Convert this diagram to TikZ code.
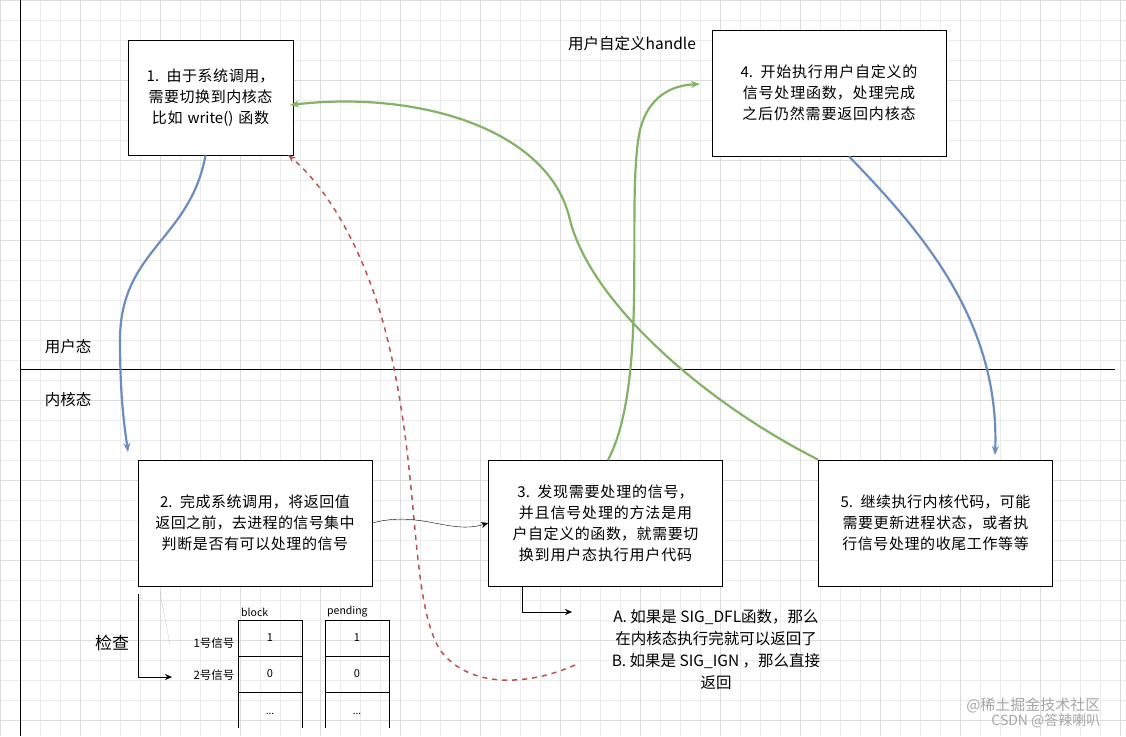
\documentclass[tikz,border=0pt]{standalone}
\usepackage{fontspec}
\setmainfont{Noto Sans CJK SC}
\XeTeXlinebreaklocale "zh"
\XeTeXlinebreakskip=0pt plus 1pt
\usetikzlibrary{arrows.meta}
\begin{document}
\begin{tikzpicture}[x=1pt,y=-1pt,
 box/.style={draw,thick,fill=white,minimum width=#1,text width=#1-12pt,align=center,minimum height=126pt,font=\fontsize{15}{21}\selectfont,inner sep=0pt},
 lbl/.style={font=\fontsize{15.5}{18}\selectfont},
 blue/.style={draw={rgb,255:red,108;green,142;blue,191},line width=2.2pt,-{Stealth[length=9pt,width=7pt]}},
 green/.style={draw={rgb,255:red,130;green,179;blue,102},line width=2.2pt,-{Stealth[length=9pt,width=7pt]}},
 red/.style={draw={rgb,255:red,184;green,84;blue,80},line width=1.5pt,dashed,dash pattern=on 5pt off 5pt,-{Stealth[length=8pt,width=6pt]}},
 blk/.style={draw,thin,-{Stealth[length=7pt,width=6pt]}},
 cell/.style={draw,thin,minimum width=64pt,minimum height=36pt,inner sep=0pt,font=\fontsize{11}{12}\selectfont}]
\useasboundingbox (0,0) rectangle (1126,736);
\fill[white] (0,0) rectangle (1126,736);
\draw[black!8,step=20pt] (0,0) grid (1126,736);
\draw[black!14,step=80pt] (0,0) grid (1126,736);
\draw (20,0) -- (20,736);
\draw (20,369) -- (1115,369);
\node[lbl] (ut) at (68,347) {用户态};
\node[lbl] (kt) at (68,400) {内核态};
\node[lbl] (uh) at (632,44) {用户自定义handle};

\node[box=165pt,minimum height=115pt,text width=158pt] (b1) at (210.5,97.5) {1. 由于系统调用，需要切换到内核态\\比如 write() 函数};
\node[box=234pt] (b4) at (829,93) {4. 开始执行用户自定义的信号处理函数，处理完成之后仍然需要返回内核态};
\node[box=234pt] (b2) at (255,523) {2. 完成系统调用，将返回值返回之前，去进程的信号集中判断是否有可以处理的信号};
\node[box=234pt] (b3) at (605.5,523) {3. 发现需要处理的信号，并且信号处理的方法是用户自定义的函数，就需要切换到用户态执行用户代码};
\node[box=234pt] (b5) at (935.5,523) {5. 继续执行内核代码，可能需要更新进程状态，或者执行信号处理的收尾工作等等};

\coordinate (b2in) at (128,452);
\coordinate (b5in) at (995,455);
\coordinate (b1in) at (290,105);
\coordinate (b1dn) at (288,155);
\coordinate (b4in) at (700,84);
\draw[blue] (b1.south) ++(-5,0) .. controls (190,240) and (120,250) .. (120,340) .. controls (120,400) and (125,430) .. (b2in);
\draw[blue] (b4.south) ++(20,0) .. controls (920,230) and (1000,320) .. (b5in);
\draw[green] (608,460) .. controls (650,380) and (625,200) .. (640,130) .. controls (650,90) and (680,85) .. (b4in);
\draw[green] (b5.north west) .. controls (700,400) and (590,300) .. (570,220) .. controls (550,130) and (420,90) .. (b1in);
\node[align=center,font=\fontsize{15.5}{22}\selectfont] (ab) at (716,650) {A. 如果是 SIG\_DFL函数，那么\\在内核态执行完就可以返回了\\B. 如果是 SIG\_IGN ，那么直接\\返回};
\draw[red] (575,665) .. controls (530,685) and (470,690) .. (440,650) .. controls (410,600) and (420,480) .. (390,350) .. controls (370,260) and (330,190) .. (b1dn);
\draw[blk] (b2.east) .. controls (420,510) and (450,535) .. (b3.west);
\coordinate (abin) at (572,612);
\draw[blk] (522,586) -- (522,612) -- (abin);

\node[font=\fontsize{17}{19}\selectfont] (ck) at (112,643) {检查};
\coordinate (ckin) at (172,677);
\draw[blk] (138,594) -- (138,677) -- (ckin);
\draw[black!30,very thin] (160,592) -- (170,645);
\node[font=\fontsize{10.5}{11}\selectfont,anchor=south west,inner sep=1pt] (hb) at (240,618) {block};
\node[font=\fontsize{10.5}{11}\selectfont,anchor=south west,inner sep=1pt] (hp) at (326,618) {pending};
\node[cell] (c11) at (270,638) {1};
\node[cell] (c21) at (270,674) {0};
\node[cell] (c12) at (357,638) {1};
\node[cell] (c22) at (357,674) {0};
\draw (238,692) -- (238,728) (302,692) -- (302,728) (325,692) -- (325,728) (389,692) -- (389,728);
\node[font=\fontsize{10}{10}\selectfont] (d1) at (270,714) {...};
\node[font=\fontsize{10}{10}\selectfont] (d2) at (357,714) {...};
\node[font=\fontsize{11.5}{12}\selectfont,anchor=east] (s1) at (238,643) {1号信号};
\node[font=\fontsize{11.5}{12}\selectfont,anchor=east] (s2) at (238,675) {2号信号};
\node[black!35,font=\fontsize{15}{16}\selectfont,anchor=east] (w1) at (1104,705) {@稀土掘金技术社区};
\node[black!35,font=\fontsize{14}{15}\selectfont,anchor=east] (w2) at (1104,721) {CSDN @答辣喇叭};
\end{tikzpicture}
\end{document}
